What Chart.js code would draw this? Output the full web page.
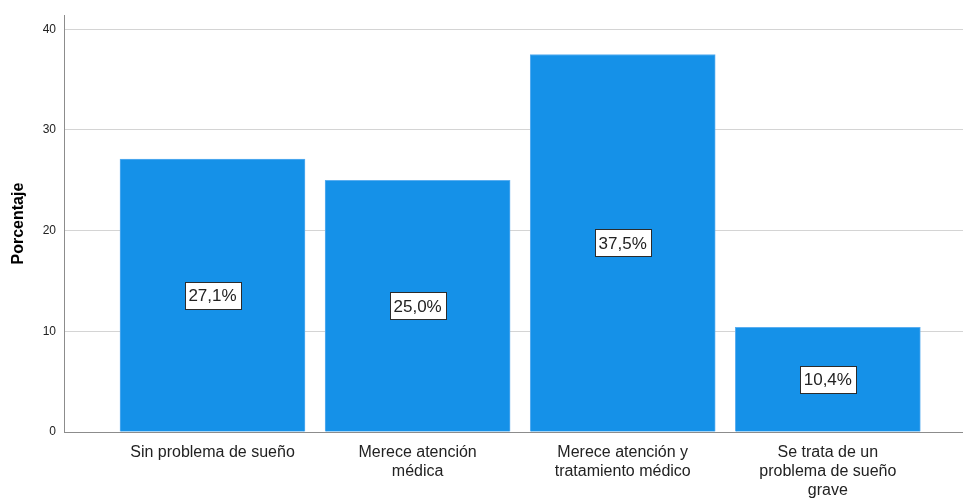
<!DOCTYPE html>
<html>
<head>
<meta charset="utf-8">
<script src="https://cdn.jsdelivr.net/npm/chart.js@4"></script>
<style>
  html, body { margin: 0; padding: 0; background: #fff; }
  #wrap { width: 963px; height: 498px; }
</style>
</head>
<body>
<div id="wrap"><canvas id="chart"></canvas></div>
<script>
// categorias (con saltos de linea como en el original)
const categories = [
    ['Sin problema de sueño'],
    ['Merece atención', 'médica'],
    ['Merece atención y', 'tratamiento médico'],
    ['Se trata de un', 'problema de sueño', 'grave']
];
const percentages = [27.1, 25.0, 37.5, 10.4];
const yTicks = [0, 10, 20, 30, 40];

const positions = categories.map((c, i) => i + 1);
const points = positions.map((p, i) => ({ x: p, y: percentages[i] }));

// etiqueta con caja blanca en el centro de cada barra
const boxLabels = {
    id: 'boxLabels',
    afterDatasetsDraw(chart) {
        const ctx = chart.ctx;
        const meta = chart.getDatasetMeta(0);
        ctx.save();
        ctx.font = '17px "Liberation Sans", Arial, sans-serif';
        ctx.textAlign = 'center';
        ctx.textBaseline = 'middle';
        meta.data.forEach((bar, i) => {
            const txt = percentages[i].toFixed(1).replace('.', ',') + '%';
            const cy = (bar.y + bar.base) / 2;
            const w = Math.round(ctx.measureText(txt).width + 8);
            const h = 27;
            const x0 = Math.round(bar.x - w / 2) + 0.5;
            const y0 = Math.round(cy - h / 2) + 0.5;
            ctx.fillStyle = '#ffffff';
            ctx.fillRect(x0, y0, w, h);
            ctx.strokeStyle = '#2b2b2b';
            ctx.lineWidth = 1;
            ctx.strokeRect(x0, y0, w, h);
            ctx.fillStyle = '#222222';
            ctx.fillText(txt, bar.x, cy + 1);
        });
        ctx.restore();
    }
};

new Chart(document.getElementById('chart').getContext('2d'), {
    type: 'bar',
    data: {
        datasets: [{
            label: 'Porcentaje',
            data: points,
            backgroundColor: '#1591e8',
            borderColor: '#5aaef0',
            borderWidth: 1,
            barThickness: 185
        }]
    },
    options: {
        responsive: true,
        maintainAspectRatio: false,
        animation: false,
        layout: { padding: { top: 6, right: 0, left: 0, bottom: 0 } },
        plugins: {
            legend: { display: false },
            title: { display: false },
            tooltip: { enabled: false }
        },
        scales: {
            x: {
                type: 'linear',
                offset: false,
                min: 0.276,
                max: 4.659,
                afterBuildTicks: (scale) => { scale.ticks = positions.map(v => ({ value: v })); },
                afterFit: (scale) => { scale.height = 66; },
                grid: { display: false, drawTicks: false },
                border: { display: true, color: '#8c8c8c', width: 1 },
                ticks: {
                    autoSkip: false,
                    maxRotation: 0,
                    padding: 11,
                    color: '#222',
                    font: { size: 16, family: '"Liberation Sans", Arial, sans-serif', lineHeight: 1.2 },
                    callback: (v) => categories[v - 1]
                }
            },
            y: {
                min: 0,
                max: 41.4,
                afterBuildTicks: (scale) => { scale.ticks = yTicks.map(v => ({ value: v })); },
                afterFit: (scale) => { scale.width = 64; },
                grid: { color: '#d4d4d4', drawTicks: false },
                border: { display: true, color: '#8c8c8c', width: 1 },
                ticks: {
                    padding: 8,
                    color: '#222',
                    font: { size: 12, family: '"Liberation Sans", Arial, sans-serif' }
                },
                title: {
                    display: true,
                    text: 'Porcentaje',
                    color: '#000',
                    padding: { top: 9, bottom: 0 },
                    font: { size: 16, weight: 'bold', family: '"Liberation Sans", Arial, sans-serif' }
                }
            }
        }
    },
    plugins: [boxLabels]
});
</script>
</body>
</html>
